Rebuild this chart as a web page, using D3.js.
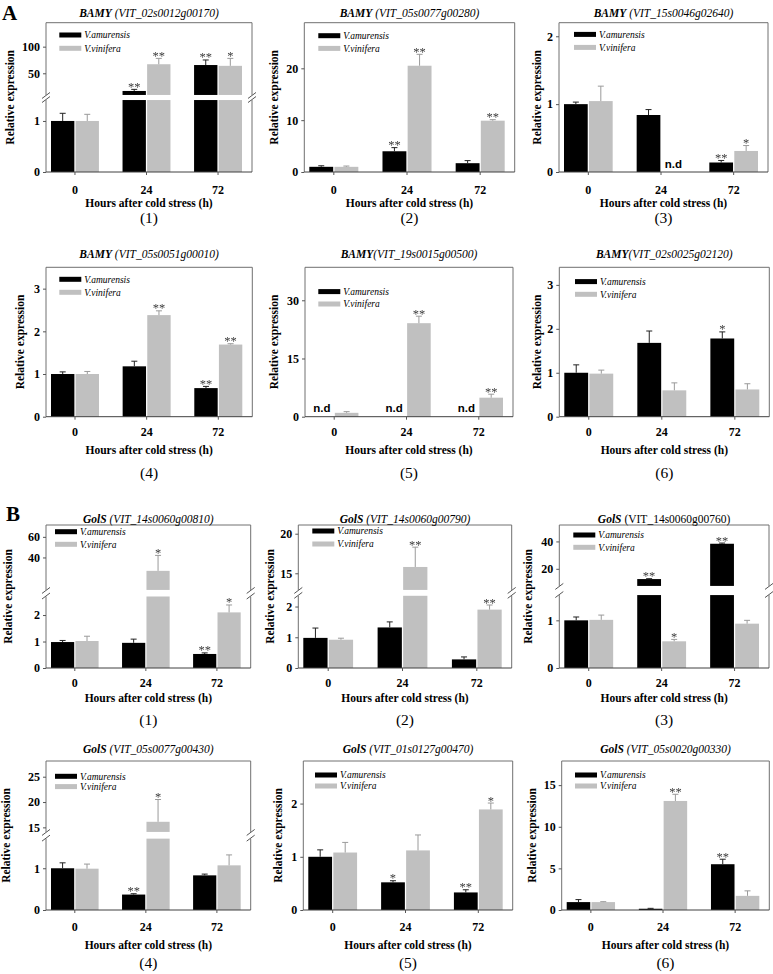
<!DOCTYPE html>
<html><head><meta charset="utf-8">
<script src="https://cdn.jsdelivr.net/npm/d3@7"></script>
<style>body{margin:0;background:#fff}svg{display:block}</style>
</head><body>
<script>
// ---------------- DATA ----------------
const timePoints = ["0", "24", "72"];
const seriesLabels = ["V.amurensis", "V.vinifera"];
const sectionLetters = ["A", "B"];
const geneNames = ["BAMY","BAMY","BAMY","BAMY","BAMY","BAMY","GolS","GolS","GolS","GolS","GolS","GolS"];
const geneIds = [" (VIT_02s0012g00170)"," (VIT_05s0077g00280)"," (VIT_15s0046g02640)"," (VIT_05s0051g00010)","(VIT_19s0015g00500)","(VIT_02s0025g02120)",
                 " (VIT_14s0060g00810)"," (VIT_14s0060g00790)"," (VIT_14s0060g00760)"," (VIT_05s0077g00430)"," (VIT_01s0127g00470)"," (VIT_05s0020g00330)"];
const geneIdItalic = [true,true,true,true,true,true,true,true,false,true,true,true];
const panelNumbers = ["(1)","(2)","(3)","(4)","(5)","(6)","(1)","(2)","(3)","(4)","(5)","(6)"];
const xAxisTitle = "Hours after cold stress (h)";
const yAxisTitle = "Relative expression";
const ndLabel = "n.d";

// null = not detected (n.d)
const amurensisMean = [
  [1.0, 16.8, 65.5],
  [1.0, 4.0, 1.7],
  [1.0, 0.84, 0.14],
  [1.0, 1.18, 0.67],
  [null, null, null],
  [1.0, 1.68, 1.78],
  [0.98, 0.95, 0.53],
  [0.98, 1.32, 0.28],
  [1.0, 12.5, 38.3],
  [1.0, 0.37, 0.83],
  [1.0, 0.52, 0.33],
  [0.95, 0.15, 5.5]
];
const amurensisSE = [
  [0.15, 3, 9.5],
  [0.2, 0.7, 0.5],
  [0.03, 0.08, 0.03],
  [0.05, 0.12, 0.04],
  [null, null, null],
  [0.18, 0.27, 0.15],
  [0.06, 0.14, 0.04],
  [0.32, 0.18, 0.08],
  [0.07, 0.3, 0.5],
  [0.13, 0.02, 0.03],
  [0.13, 0.03, 0.05],
  [0.3, 0.05, 0.6]
];
const viniferaMean = [
  [1.0, 67, 64],
  [1.0, 20.5, 9.9],
  [1.045, null, 0.31],
  [1.0, 2.38, 1.69],
  [1.0, 24.1, 4.9],
  [0.98, 0.6, 0.62],
  [1.02, 27, 2.1],
  [0.92, 15.8, 1.9],
  [1.01, 0.56, 0.93],
  [0.99, 16.1, 1.07],
  [1.08, 1.12, 1.89],
  [0.95, 13.1, 1.7]
];
const viniferaSE = [
  [0.13, 11, 14],
  [0.15, 2.2, 0.2],
  [0.22, null, 0.08],
  [0.06, 0.1, 0.02],
  [0.3, 1.8, 0.9],
  [0.08, 0.17, 0.13],
  [0.18, 15, 0.28],
  [0.05, 2.5, 0.15],
  [0.1, 0.04, 0.07],
  [0.11, 4.4, 0.25],
  [0.19, 0.29, 0.12],
  [0.05, 0.8, 0.6]
];
const amurensisStars = [
  ["","**","**"],["","**",""],["","","**"],["","","**"],["","",""],["","","*"],
  ["","","**"],["","",""],["","**","**"],["","**",""],["","*","**"],["","","**"]
];
const viniferaStars = [
  ["","**","*"],["","**","**"],["","","*"],["","**","**"],["","**","**"],["","",""],
  ["","*","*"],["","**","**"],["","*",""],["","*",""],["","","*"],["","**",""]
];
// y axis: lower segment max, optional upper segment (broken axis)
const lowerDomainMax = [1.41, 28.8, 2.2, 3.5, 38.5, 3.4, 2.7, 2.35, 1.53, 1.71, 2.8, 17.9];
const upperDomain = [[9.3,145], null, null, null, null, null, [8.5,71.5], [12.9,21.1], [7.5,52], [14.1,28.1], null, null];
const lowerTicks = [[0,1],[0,10,20],[0,1,2],[0,1,2,3],[0,15,30],[0,1,2,3],[0,1,2],[0,1,2],[0,1],[0,1],[0,1,2],[0,5,10,15]];
const upperTicks = [[50,100], null, null, null, null, null, [40,60], [15,20], [20,40], [15,20,25], null, null];

// ---------------- LAYOUT ----------------
const W = 773, H = 974;
const rows = [
  {y0:22.7, y1:172, title:17, tick:194, hours:206.5, num:223},
  {y0:267.3, y1:416.7, title:258, tick:435.7, hours:453.5, num:477.5},
  {y0:525, y1:668, title:523, tick:687.3, hours:702, num:724.5},
  {y0:761, y1:910, title:753, tick:931.3, hours:948.5, num:968}
];
const boxX = [[46,252],[304.3,514.7],[559,768],[46,252.3],[305,513],[559.3,769.3],
              [46,250.7],[298.3,511.7],[559.3,769],[46,250.7],[303.3,512.7],[561.7,769.3]];
const yLabelX = [10,274,536.7,20,274,536.7,8.3,270,528.3,6,278.3,531.7];
const legendPos = [[13.3,12.3,25.6],[14,13,25.7],[15,11.7,24.7],[13.3,12,25],[13.3,24.3,36.7],[15.7,14.3,27],
                   [9,6.7,19.3],[14,6,19],[14,10,22.3],[9,15.3,25.6],[11.7,14,25],[13.3,14,25]];
const breakFrac = [[0.482,0.516],null,null,null,null,null,[0.5,0.546],[0.505,0.546],[0.51,0.574],[0.479,0.524],null,null];
const colors = ["#000000", "#c0c0c0"];
const errColors = ["#222222", "#9a9a9a"];
const serif = "'Liberation Serif','Times New Roman',serif";
const sans = "'Liberation Sans',Arial,sans-serif";

const svg = d3.select("body").append("svg").attr("width", W).attr("height", H);
const defs = svg.append("defs");
defs.append("filter").attr("id", "gray").attr("x", "-20%").attr("y", "-20%").attr("width", "140%").attr("height", "140%")
  .append("feColorMatrix").attr("type", "saturate").attr("values", 0);
svg.append("rect").attr("width", W).attr("height", H).attr("fill", "#fff");

svg.append("text").attr("x", 2).attr("y", 19.5).text(sectionLetters[0])
  .attr("font-family", serif).attr("font-weight", "bold").attr("font-size", 21);
svg.append("text").attr("x", 6).attr("y", 520.7).text(sectionLetters[1])
  .attr("font-family", serif).attr("font-weight", "bold").attr("font-size", 21);

const means = [amurensisMean, viniferaMean];
const ses = [amurensisSE, viniferaSE];
const stars = [amurensisStars, viniferaStars];
const starLayer = svg.append("g").attr("filter", "url(#gray)");

for (let i = 0; i < 12; i++) {
  const r = rows[Math.floor(i / 3)];
  const [x0, x1] = boxX[i];
  const y0 = r.y0, y1 = r.y1, h = y1 - y0;
  const g = svg.append("g");
  const broken = upperDomain[i] !== null;
  const yLowTop = broken ? y1 - breakFrac[i][0] * h : y0;
  const yUpBot = broken ? y1 - breakFrac[i][1] * h : y0;

  const x = d3.scaleBand().domain(timePoints).range([x0 + 5, x1 - 10]).paddingInner(0.33);
  const xs = d3.scaleBand().domain([0, 1]).range([0, x.bandwidth()]).paddingInner(0.05);
  const yL = d3.scaleLinear().domain([0, lowerDomainMax[i]]).range([y1, yLowTop]);
  const yU = broken ? d3.scaleLinear().domain(upperDomain[i]).range([yUpBot, y0]) : null;

  // bars
  for (let s = 0; s < 2; s++) {
    timePoints.forEach((t, ti) => {
      const v = means[s][i][ti];
      const bx = x(t) + xs(s), bw = xs.bandwidth(), cx = bx + bw / 2;
      if (v === null) {
        g.append("text").attr("x", cx).attr("y", y1 - 4.5).attr("text-anchor", "middle")
          .attr("font-family", sans).attr("font-weight", "bold").attr("font-size", 11.5).text(ndLabel);
        return;
      }
      const se = ses[s][i][ti] || 0;
      let scale;
      if (broken && v > lowerDomainMax[i]) {
        g.append("rect").attr("x", bx).attr("width", bw).attr("y", yL(lowerDomainMax[i])).attr("height", yL(0) - yL(lowerDomainMax[i])).attr("fill", colors[s]);
        g.append("rect").attr("x", bx).attr("width", bw).attr("y", yU(v)).attr("height", yU(upperDomain[i][0]) - yU(v)).attr("fill", colors[s]);
        scale = yU;
      } else {
        g.append("rect").attr("x", bx).attr("width", bw).attr("y", yL(v)).attr("height", yL(0) - yL(v)).attr("fill", colors[s]);
        scale = yL;
      }
      const yTop = scale(v + se);
      if (se > 0) {
        g.append("line").attr("x1", cx).attr("x2", cx).attr("y1", scale(v)).attr("y2", yTop).attr("stroke", errColors[s]).attr("stroke-width", 1);
        g.append("line").attr("x1", cx - 3).attr("x2", cx + 3).attr("y1", yTop).attr("y2", yTop).attr("stroke", errColors[s]).attr("stroke-width", 1);
      }
      const st = stars[s][i][ti];
      if (st) {
        starLayer.append("text").attr("x", cx).attr("y", yTop + 1.5).attr("text-anchor", "middle")
          .attr("font-family", serif).attr("font-size", 12.5).attr("fill", "#3a3a3a").text(st);
      }
    });
  }

  // frame
  const frame = "#707070";
  g.append("line").attr("x1", x0).attr("x2", x1).attr("y1", y0).attr("y2", y0).attr("stroke", frame);
  [x0, x1].forEach(xx => {
    if (broken) {
      g.append("line").attr("x1", xx).attr("x2", xx).attr("y1", y0).attr("y2", yUpBot).attr("stroke", frame);
      g.append("line").attr("x1", xx).attr("x2", xx).attr("y1", yLowTop).attr("y2", y1).attr("stroke", frame);
      g.append("line").attr("x1", xx - 4).attr("x2", xx + 4).attr("y1", yLowTop + 2.5).attr("y2", yLowTop - 3.5).attr("stroke", "#555");
      g.append("line").attr("x1", xx - 4).attr("x2", xx + 4).attr("y1", yUpBot + 3.5).attr("y2", yUpBot - 2.5).attr("stroke", "#555");
    } else {
      g.append("line").attr("x1", xx).attr("x2", xx).attr("y1", y0).attr("y2", y1).attr("stroke", frame);
    }
  });
  g.append("line").attr("x1", x0).attr("x2", x1).attr("y1", y1).attr("y2", y1).attr("stroke", "#404040");

  // y axes
  const styleAxis = sel => {
    sel.select(".domain").remove();
    sel.selectAll(".tick line").attr("stroke", "#555");
    sel.selectAll("text").attr("font-family", serif).attr("font-weight", "bold").attr("font-size", 12).attr("fill", "#000");
  };
  g.append("g").attr("transform", `translate(${x0},0)`)
    .call(d3.axisLeft(yL).tickValues(lowerTicks[i]).tickSize(3).tickPadding(3).tickFormat(d3.format("d"))).call(styleAxis);
  if (broken) {
    g.append("g").attr("transform", `translate(${x0},0)`)
      .call(d3.axisLeft(yU).tickValues(upperTicks[i]).tickSize(3).tickPadding(3).tickFormat(d3.format("d"))).call(styleAxis);
  }
  // x axis
  const xa = g.append("g").attr("transform", `translate(0,${y1})`)
    .call(d3.axisBottom(x).tickSize(3)).call(styleAxis);
  xa.selectAll("text").attr("y", r.tick - y1).attr("dy", 0);

  // titles
  const cxBox = (x0 + x1) / 2;
  const tt = g.append("text").attr("x", cxBox).attr("y", r.title).attr("text-anchor", "middle")
    .attr("font-family", serif).attr("font-size", 11.5).attr("style", "white-space:pre");
  tt.append("tspan").attr("font-weight", "bold").attr("font-style", "italic").text(geneNames[i]);
  tt.append("tspan").attr("font-style", geneIdItalic[i] ? "italic" : "normal").text(geneIds[i]);

  g.append("text").attr("x", cxBox).attr("y", r.hours).attr("text-anchor", "middle")
    .attr("font-family", serif).attr("font-weight", "bold").attr("font-size", 11.5).text(xAxisTitle);
  g.append("text").attr("x", cxBox).attr("y", r.num).attr("text-anchor", "middle")
    .attr("font-family", serif).attr("font-size", 15.5).text(panelNumbers[i]);
  g.append("text").attr("transform", `translate(${yLabelX[i]},${(y0 + y1) / 2}) rotate(-90)`)
    .attr("text-anchor", "middle").attr("dy", "0.35em")
    .attr("font-family", serif).attr("font-weight", "bold").attr("font-size", 11.5).text(yAxisTitle);

  // legend
  const [ldx, ly1, ly2] = legendPos[i];
  [ly1, ly2].forEach((ly, s) => {
    g.append("rect").attr("x", x0 + ldx).attr("y", y0 + ly - 2.5).attr("width", 22).attr("height", 5).attr("fill", colors[s]);
    g.append("text").attr("x", x0 + ldx + 25).attr("y", y0 + ly + 3.2)
      .attr("font-family", serif).attr("font-style", "italic").attr("font-size", 9.5).text(seriesLabels[s]);
  });
}
svg.node().appendChild(starLayer.node());
</script>
</body></html>
